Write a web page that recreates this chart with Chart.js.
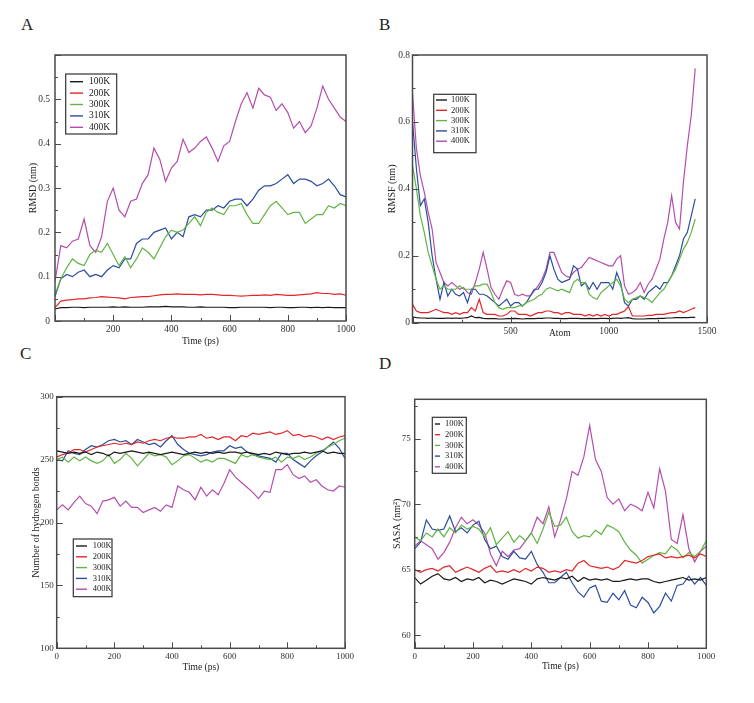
<!DOCTYPE html>
<html>
<head>
<meta charset="utf-8">
<script src="https://cdn.jsdelivr.net/npm/chart.js@4.4.1/dist/chart.umd.min.js"></script>
<style>
  body { margin: 0; background: #fff; width: 754px; height: 703px; position: relative; overflow: hidden; font-family: "Liberation Serif", serif; }
  canvas { position: absolute; }
  .tag { position: absolute; font-size: 17px; color: #222; line-height: 1; }
</style>
</head>
<body>
<div class="tag" style="left:21px;top:16px">A</div>
<div class="tag" style="left:379px;top:16px">B</div>
<div class="tag" style="left:20px;top:345px">C</div>
<div class="tag" style="left:379px;top:355px">D</div>
<canvas id="chartA" width="377" height="352" style="left:0;top:0"></canvas>
<canvas id="chartB" width="377" height="352" style="left:377px;top:0"></canvas>
<canvas id="chartC" width="377" height="353" style="left:0;top:350px"></canvas>
<canvas id="chartD" width="377" height="353" style="left:377px;top:350px"></canvas>
<script>
const temps = ['100K', '200K', '300K', '310K', '400K'];
const colors = ['#1a1a1a', '#e3262a', '#62b444', '#2c4d9e', '#b54dac'];

// time axis (ps), shared by panels A, C, D
const time = [0, 20, 40, 60, 80, 100, 120, 140, 160, 180, 200, 220, 240, 260, 280, 300, 320, 340, 360, 380,
  400, 420, 440, 460, 480, 500, 520, 540, 560, 580, 600, 620, 640, 660, 680, 700, 720, 740, 760, 780,
  800, 820, 840, 860, 880, 900, 920, 940, 960, 980, 1000];

// atom index for panel B
const atoms = [0, 20, 40, 60, 80, 100, 120, 140, 160, 180, 200, 220, 240, 260, 280, 300, 320, 340, 360, 380,
  400, 420, 440, 460, 480, 500, 520, 540, 560, 580, 600, 620, 640, 660, 680, 700, 720, 740, 760, 780,
  800, 820, 840, 860, 880, 900, 920, 940, 960, 980, 1000, 1020, 1040, 1060, 1080, 1100, 1120, 1140, 1160, 1180,
  1200, 1220, 1240, 1260, 1280, 1300, 1320, 1340, 1360, 1380, 1400, 1420, 1440];

// A: RMSD (nm)
const rmsd100 = [0.027, 0.03, 0.03, 0.031, 0.031, 0.03, 0.031, 0.031, 0.031, 0.031, 0.032, 0.031, 0.032, 0.031, 0.031, 0.031, 0.032, 0.032, 0.032, 0.033,
  0.032, 0.032, 0.032, 0.031, 0.031, 0.032, 0.031, 0.031, 0.031, 0.031, 0.03, 0.03, 0.031, 0.031, 0.031, 0.031, 0.031, 0.03, 0.031, 0.031,
  0.03, 0.03, 0.031, 0.031, 0.03, 0.031, 0.03, 0.031, 0.03, 0.03, 0.03];
const rmsd200 = [0.03, 0.045, 0.047, 0.048, 0.05, 0.05, 0.052, 0.053, 0.055, 0.054, 0.053, 0.052, 0.05, 0.053, 0.054, 0.055, 0.055, 0.057, 0.059, 0.06,
  0.06, 0.061, 0.06, 0.06, 0.06, 0.059, 0.06, 0.06, 0.059, 0.058, 0.058, 0.057, 0.056, 0.057, 0.058, 0.058, 0.059, 0.058, 0.06, 0.059,
  0.058, 0.058, 0.059, 0.06, 0.061, 0.064, 0.062, 0.062, 0.06, 0.061, 0.058];
const rmsd300 = [0.06, 0.095, 0.12, 0.14, 0.13, 0.125, 0.15, 0.16, 0.155, 0.175, 0.15, 0.125, 0.145, 0.12, 0.14, 0.165, 0.155, 0.14, 0.165, 0.19,
  0.205, 0.2, 0.205, 0.22, 0.235, 0.215, 0.245, 0.255, 0.245, 0.24, 0.26, 0.26, 0.265, 0.24, 0.22, 0.22, 0.24, 0.26, 0.27, 0.255,
  0.24, 0.245, 0.245, 0.22, 0.23, 0.24, 0.24, 0.26, 0.255, 0.265, 0.26];
const rmsd310 = [0.055, 0.095, 0.105, 0.1, 0.11, 0.115, 0.1, 0.105, 0.1, 0.115, 0.125, 0.12, 0.14, 0.14, 0.175, 0.185, 0.185, 0.2, 0.205, 0.21,
  0.185, 0.2, 0.19, 0.235, 0.24, 0.235, 0.25, 0.25, 0.26, 0.255, 0.27, 0.275, 0.275, 0.26, 0.275, 0.295, 0.305, 0.305, 0.31, 0.32,
  0.33, 0.31, 0.32, 0.32, 0.315, 0.305, 0.31, 0.32, 0.305, 0.285, 0.28];
const rmsd400 = [0.09, 0.17, 0.165, 0.18, 0.185, 0.23, 0.17, 0.155, 0.19, 0.27, 0.3, 0.25, 0.235, 0.27, 0.275, 0.31, 0.33, 0.39, 0.365, 0.315,
  0.345, 0.36, 0.41, 0.38, 0.39, 0.405, 0.415, 0.39, 0.36, 0.395, 0.405, 0.45, 0.49, 0.515, 0.48, 0.525, 0.51, 0.505, 0.475, 0.49,
  0.47, 0.435, 0.45, 0.425, 0.44, 0.48, 0.53, 0.5, 0.48, 0.46, 0.45];

// B: RMSF (nm)
const rmsf100 = [0.017, 0.015, 0.014, 0.014, 0.013, 0.014, 0.013, 0.013, 0.013, 0.014, 0.013, 0.014, 0.013, 0.014, 0.015, 0.02, 0.015, 0.016, 0.013, 0.012,
  0.012, 0.012, 0.011, 0.011, 0.012, 0.012, 0.013, 0.012, 0.011, 0.012, 0.012, 0.012, 0.013, 0.013, 0.014, 0.014, 0.013, 0.013, 0.012, 0.012,
  0.013, 0.013, 0.013, 0.012, 0.012, 0.013, 0.012, 0.012, 0.013, 0.013, 0.012, 0.013, 0.014, 0.013, 0.014, 0.015, 0.012, 0.011, 0.011, 0.011,
  0.012, 0.012, 0.012, 0.013, 0.013, 0.014, 0.014, 0.015, 0.015, 0.015, 0.015, 0.016, 0.016];
const rmsf200 = [0.055, 0.035, 0.03, 0.03, 0.03, 0.035, 0.04, 0.035, 0.03, 0.03, 0.025, 0.03, 0.025, 0.03, 0.03, 0.045, 0.035, 0.07, 0.03, 0.025,
  0.025, 0.025, 0.02, 0.02, 0.025, 0.035, 0.035, 0.025, 0.025, 0.025, 0.02, 0.025, 0.03, 0.03, 0.035, 0.035, 0.03, 0.03, 0.025, 0.03,
  0.03, 0.025, 0.025, 0.025, 0.02, 0.025, 0.02, 0.025, 0.02, 0.025, 0.02, 0.025, 0.025, 0.03, 0.035, 0.048, 0.02, 0.02, 0.02, 0.02,
  0.022, 0.022, 0.025, 0.025, 0.025, 0.028, 0.03, 0.03, 0.035, 0.03, 0.035, 0.04, 0.045];
const rmsf300 = [0.47, 0.4, 0.32, 0.27, 0.21, 0.17, 0.13, 0.1, 0.11, 0.1, 0.1, 0.1, 0.11, 0.1, 0.1, 0.1, 0.11, 0.11, 0.115, 0.115,
  0.09, 0.06, 0.045, 0.04, 0.045, 0.045, 0.045, 0.05, 0.05, 0.06, 0.065, 0.07, 0.08, 0.085, 0.1, 0.105, 0.1, 0.095, 0.1, 0.095,
  0.09, 0.12, 0.13, 0.12, 0.12, 0.085, 0.075, 0.07, 0.09, 0.1, 0.11, 0.12, 0.13, 0.11, 0.07, 0.06, 0.07, 0.075, 0.08, 0.075,
  0.07, 0.06, 0.075, 0.09, 0.1, 0.12, 0.14, 0.16, 0.19, 0.22, 0.24, 0.27, 0.31];
const rmsf310 = [0.6, 0.46, 0.35, 0.37, 0.3, 0.2, 0.13, 0.07, 0.12, 0.08, 0.1, 0.085, 0.08, 0.09, 0.06, 0.1, 0.1, 0.085, 0.085, 0.08,
  0.07, 0.06, 0.05, 0.06, 0.07, 0.05, 0.06, 0.06, 0.05, 0.06, 0.08, 0.1, 0.1, 0.12, 0.15, 0.2, 0.16, 0.13, 0.12, 0.125,
  0.13, 0.17, 0.16, 0.11, 0.12, 0.1, 0.12, 0.1, 0.12, 0.12, 0.12, 0.1, 0.15, 0.12, 0.06, 0.05, 0.07, 0.07, 0.08, 0.07,
  0.09, 0.1, 0.11, 0.1, 0.12, 0.12, 0.14, 0.17, 0.2, 0.25, 0.27, 0.32, 0.37];
const rmsf400 = [0.685, 0.52, 0.44, 0.39, 0.33, 0.28, 0.18, 0.15, 0.12, 0.11, 0.12, 0.11, 0.1, 0.105, 0.09, 0.085, 0.12, 0.16, 0.21, 0.16,
  0.105, 0.085, 0.07, 0.1, 0.125, 0.12, 0.085, 0.08, 0.085, 0.08, 0.08, 0.095, 0.11, 0.13, 0.16, 0.21, 0.21, 0.18, 0.15, 0.14,
  0.135, 0.15, 0.16, 0.165, 0.18, 0.195, 0.19, 0.185, 0.18, 0.175, 0.17, 0.17, 0.19, 0.2, 0.11, 0.085, 0.09, 0.1, 0.12, 0.09,
  0.115, 0.13, 0.16, 0.19, 0.25, 0.3, 0.38, 0.3, 0.28, 0.42, 0.53, 0.62, 0.76];

// C: number of hydrogen bonds
const hb100 = [257, 256, 255, 256, 255, 256, 254, 256, 255, 253, 256, 255, 256, 257, 256, 255, 256, 255, 254, 255,
  256, 255, 254, 255, 256, 255, 256, 255, 256, 255, 256, 256, 255, 256, 255, 254, 255, 254, 256, 255,
  254, 255, 255, 256, 255, 256, 257, 255, 256, 255, 255];
const hb200 = [252, 254, 255, 258, 258, 256, 258, 260, 261, 262, 263, 262, 263, 262, 264, 263, 265, 266, 265, 267,
  268, 267, 267, 268, 268, 270, 267, 268, 266, 268, 268, 265, 269, 268, 271, 270, 271, 272, 270, 271,
  273, 269, 270, 268, 269, 268, 266, 268, 266, 268, 269];
const hb300 = [250, 252, 248, 252, 249, 252, 249, 247, 249, 254, 247, 250, 255, 251, 245, 250, 255, 253, 254, 252,
  246, 249, 253, 254, 251, 248, 250, 248, 251, 251, 249, 247, 254, 252, 254, 252, 251, 250, 252, 248,
  252, 251, 253, 250, 252, 255, 257, 260, 262, 265, 267];
const hb310 = [250, 249, 257, 255, 254, 258, 261, 260, 262, 265, 266, 264, 265, 262, 266, 264, 262, 263, 260, 265,
  269, 262, 258, 255, 254, 253, 254, 256, 257, 257, 261, 259, 260, 256, 254, 253, 252, 251, 248, 255,
  255, 250, 247, 244, 249, 253, 256, 260, 264, 259, 251];
const hb400 = [210, 214, 210, 216, 221, 215, 213, 207, 217, 218, 220, 213, 217, 212, 212, 208, 210, 212, 209, 214,
  212, 229, 226, 224, 218, 228, 221, 226, 222, 231, 242, 236, 232, 228, 224, 219, 225, 224, 242, 242,
  246, 238, 235, 237, 232, 234, 229, 226, 225, 229, 228];

// D: SASA (nm^2)
const sasa100 = [64.4, 63.9, 64.2, 64.5, 64.7, 64.3, 64.2, 64.4, 64.1, 64.3, 64.2, 64.4, 64, 64.2, 64.1, 63.9, 64.1, 64.3, 64.2, 64.1,
  63.9, 64.3, 64.4, 64.3, 64.2, 64.4, 64.3, 64.5, 64.1, 64.4, 64.2, 64.3, 64.2, 64.3, 64.1, 64.1, 64.2, 64.3, 64.2, 64.3,
  64.3, 64.1, 64, 64.1, 64.2, 64.3, 64.4, 64.2, 64.3, 64.2, 64.4];
const sasa200 = [65, 64.8, 65, 65.1, 64.9, 65.2, 65.3, 64.8, 65, 65.2, 65, 64.8, 65.1, 65.3, 64.8, 64.9, 64.8, 65, 64.8, 65.1,
  64.9, 65.2, 65.1, 64.8, 64.9, 64.8, 65, 64.9, 65.5, 65.7, 65.3, 65.2, 65.1, 65.2, 65, 65.2, 65.7, 65.6, 65.5, 65.7,
  66, 66.1, 66.2, 65.9, 66, 65.9, 66, 66.1, 65.9, 66.2, 66];
const sasa300 = [67.5, 67.2, 67.8, 67.5, 68.1, 67.5, 68.2, 67.8, 68.4, 68.1, 68.3, 68.1, 67.5, 68.2, 66.9, 67.4, 67.9, 67.1, 67.6, 67.2,
  67.8, 67, 68.1, 69.4, 68.3, 68.4, 69, 67.9, 67.4, 67.6, 67.5, 68, 67.7, 68.4, 68.2, 67.9, 67.1, 66.5, 66.1, 65.5,
  65.8, 66.1, 66.3, 66.2, 66.8, 66.5, 65.9, 66.3, 66, 66.4, 67.2];
const sasa310 = [66.6, 67.1, 68.8, 68.1, 68, 68.1, 69.1, 67.9, 68.2, 67.8, 68.4, 68.7, 67.3, 66.6, 66.8, 66, 65.8, 66.4, 65.9, 65.8,
  66.4, 65.4, 64.8, 64, 64, 64.4, 64.8, 64, 63.3, 62.9, 63.6, 63.8, 62.6, 62.5, 63.2, 62.7, 63.4, 62.3, 62.1, 62.9,
  62.5, 61.7, 62.2, 63.2, 62.6, 63.8, 63.9, 64.5, 63.9, 64.4, 63.8];
const sasa400 = [66.8, 67.2, 66.9, 66.6, 65.8, 66.3, 67.1, 68.2, 69, 68.5, 68.8, 68.4, 67.8, 66.2, 65.3, 66.4, 66, 66.5, 66.6, 67.2,
  67.8, 69, 68.5, 69.8, 67.5, 68.8, 70.4, 72.5, 72.2, 73.6, 76, 73.4, 72.5, 70.5, 70, 70.4, 69.5, 70, 69.8, 69.5,
  70.9, 69.7, 72.7, 71, 67.3, 67, 69.2, 66.6, 65.6, 66.4, 66.8];

// frame around the plot plus inward ticks on the left and bottom edges
const frameTicks = {
  id: 'frameTicks',
  afterDatasetsDraw(chart, args, o) {
    const { ctx, chartArea: a, scales: { x, y } } = chart;
    ctx.save();
    ctx.strokeStyle = '#4a4a4a';
    ctx.lineWidth = 1;
    const mark = (scale, step, len, horiz) => {
      for (let i = Math.ceil(scale.min / step - 1e-9); i * step <= scale.max + 1e-9; i++) {
        const p = Math.round(scale.getPixelForValue(i * step)) + 0.5;
        ctx.beginPath();
        if (horiz) { ctx.moveTo(p, a.bottom); ctx.lineTo(p, a.bottom - len); }
        else { ctx.moveTo(a.left, p); ctx.lineTo(a.left + len, p); }
        ctx.stroke();
      }
    };
    mark(x, o.xMinor, 3, true);
    mark(x, o.xMajor, 6, true);
    mark(y, o.yMinor, 3, false);
    mark(y, o.yMajor, 6, false);
    ctx.lineWidth = 1.5;
    ctx.strokeRect(a.left, a.top, a.right - a.left, a.bottom - a.top);
    ctx.restore();
  }
};

// grace-style boxed legend inside the plot
const boxLegend = {
  id: 'boxLegend',
  afterDraw(chart, args, o) {
    const { ctx, chartArea: a } = chart;
    const bx = a.left + o.x, by = a.top + o.y;
    ctx.save();
    ctx.fillStyle = '#fff';
    ctx.fillRect(bx, by, o.w, o.h);
    ctx.strokeStyle = '#333';
    ctx.lineWidth = 1.2;
    ctx.strokeRect(bx, by, o.w, o.h);
    ctx.font = o.size + 'px "Liberation Serif"';
    ctx.textBaseline = 'middle';
    chart.data.datasets.forEach((ds, i) => {
      const yy = by + o.first + i * o.gap;
      ctx.strokeStyle = ds.borderColor;
      ctx.lineWidth = 1.4;
      ctx.beginPath();
      ctx.moveTo(bx + o.l0, yy);
      ctx.lineTo(bx + o.l1, yy);
      ctx.stroke();
      ctx.fillStyle = '#222';
      ctx.fillText(ds.label, bx + o.tx, yy);
    });
    ctx.restore();
  }
};

const fmt = v => String(Number(v.toFixed(3)));

function panel(id, xs, sets, o) {
  const hide = list => v => (list.some(h => Math.abs(h - v) < 1e-9) ? '' : fmt(v));
  new Chart(document.getElementById(id), {
    type: 'line',
    data: {
      datasets: sets.map((ys, i) => ({
        label: temps[i],
        data: xs.map((x, j) => ({ x: x, y: ys[j] })),
        borderColor: colors[i],
        borderWidth: 1.2,
        pointRadius: 0,
        tension: 0
      }))
    },
    options: {
      responsive: false,
      animation: false,
      layout: { padding: { top: o.top, right: o.right, left: 0, bottom: 0 } },
      plugins: {
        legend: { display: false },
        tooltip: { enabled: false },
        frameTicks: o.ticks,
        boxLegend: o.legend
      },
      scales: {
        x: {
          type: 'linear', min: o.x[0], max: o.x[1],
          grid: { display: false, drawTicks: false }, border: { display: false },
          ticks: { stepSize: o.x[2], autoSkip: false, maxRotation: 0, includeBounds: false, padding: o.xPad,
            font: { family: 'Liberation Serif', size: o.tickSize }, color: '#333', callback: hide(o.xHide) },
          title: { display: true, text: o.xTitle, color: '#222', font: { family: 'Liberation Serif', size: 9.5 },
            padding: { top: 0, bottom: o.xTitlePad } },
          afterFit: s => { s.height = o.xH; }
        },
        y: {
          type: 'linear', min: o.y[0], max: o.y[1],
          grid: { display: false, drawTicks: false }, border: { display: false },
          ticks: { stepSize: o.y[2], autoSkip: false, includeBounds: false, padding: o.yPad,
            font: { family: 'Liberation Serif', size: o.tickSize }, color: '#333', callback: hide(o.yHide) },
          title: { display: true, text: o.yTitle, color: '#222', font: { family: 'Liberation Serif', size: 10 },
            padding: { top: o.yTitlePad, bottom: 0 } },
          afterFit: s => { s.width = o.yW; }
        }
      }
    },
    plugins: [frameTicks, boxLegend]
  });
}

panel('chartA', time, [rmsd100, rmsd200, rmsd300, rmsd310, rmsd400], {
  top: 55, right: 31, yW: 55, xH: 31,
  x: [0, 1000, 200], y: [0, 0.6, 0.1], xHide: [0], yHide: [0.6],
  xPad: 3, yPad: 5, tickSize: 9.5,
  xTitle: 'Time (ps)', xTitlePad: 5, yTitle: 'RMSD (nm)', yTitlePad: 27,
  ticks: { xMajor: 200, xMinor: 100, yMajor: 0.1, yMinor: 0.05 },
  legend: { x: 10.7, y: 19, w: 51, h: 60, first: 7.7, gap: 11.4, l0: 4.3, l1: 17.3, tx: 23.3, size: 9.5 }
});

panel('chartB', atoms, [rmsf100, rmsf200, rmsf300, rmsf310, rmsf400], {
  top: 55, right: 47, yW: 35.5, xH: 29.3,
  x: [0, 1500, 500], y: [0, 0.8, 0.2], xHide: [0], yHide: [],
  xPad: 3, yPad: 2.5, tickSize: 9.5,
  xTitle: 'Atom', xTitlePad: 12.5, yTitle: 'RMSF (nm)', yTitlePad: 9.5,
  ticks: { xMajor: 500, xMinor: 250, yMajor: 0.2, yMinor: 0.1 },
  legend: { x: 21.2, y: 39.3, w: 42.3, h: 58.4, first: 5.7, gap: 10.3, l0: 2.3, l1: 13.3, tx: 17.3, size: 8.5 }
});

panel('chartC', time, [hb100, hb200, hb300, hb310, hb400], {
  top: 46.7, right: 32, yW: 56.7, xH: 54.7,
  x: [0, 1000, 200], y: [100, 300, 50], xHide: [], yHide: [],
  xPad: 3, yPad: 3, tickSize: 9,
  xTitle: 'Time (ps)', xTitlePad: 29.8, yTitle: 'Number of hydrogen bonds', yTitlePad: 30,
  ticks: { xMajor: 200, xMinor: 100, yMajor: 50, yMinor: 25 },
  legend: { x: 16.6, y: 142.3, w: 38.7, h: 57.7, first: 7, gap: 10.8, l0: 2.7, l1: 13.7, tx: 19.4, size: 8.5 }
});

panel('chartD', time, [sasa100, sasa200, sasa300, sasa310, sasa400], {
  top: 49.3, right: 47.7, yW: 37.7, xH: 54.7,
  x: [0, 1000, 200], y: [59, 78, 5], xHide: [], yHide: [],
  xPad: 3, yPad: 4, tickSize: 9,
  xTitle: 'Time (ps)', xTitlePad: 30.6, yTitle: 'SASA (nm²)', yTitlePad: 14.5,
  ticks: { xMajor: 200, xMinor: 100, yMajor: 5, yMinor: 2.5 },
  legend: { x: 17.6, y: 18, w: 34, h: 56, first: 6.7, gap: 10.7, l0: 2.7, l1: 7.7, tx: 12.7, size: 8.5 }
});
</script>
</body>
</html>
